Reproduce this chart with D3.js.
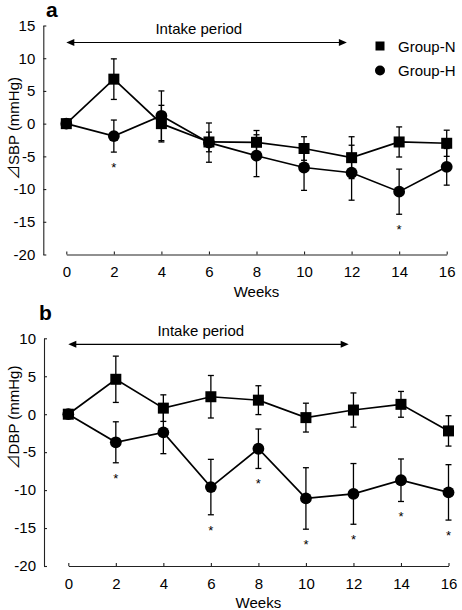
<!DOCTYPE html>
<html><head><meta charset="utf-8">
<script src="https://cdn.jsdelivr.net/npm/d3@7"></script>
<style>
html,body{margin:0;padding:0;background:#fff;}
svg{display:block;font-family:"Liberation Sans",Arial,sans-serif;}
</style></head>
<body>
<svg id="chart" width="462" height="610"></svg>
<script>
// ---- data ----
const weeks = [0, 2, 4, 6, 8, 10, 12, 14, 16];
const xTicks = [0, 2, 4, 6, 8, 10, 12, 14, 16];

const sbpN    = [0, 6.8, 0.0, -2.8, -2.85, -3.8, -5.2, -2.8, -3.0];
const sbpNErr = [0, 3.1, 2.8, 1.5, 1.8, 1.8, 3.2, 2.3, 2.0];
const sbpH    = [0, -1.9, 1.2, -2.9, -4.9, -6.7, -7.5, -10.4, -6.6];
const sbpHErr = [0, 2.45, 3.8, 3.0, 3.2, 3.5, 4.2, 3.45, 2.8];
const sbpSig  = [0, 1, 0, 0, 0, 0, 0, 1, 0];
const sbpTicks = [15, 10, 5, 0, -5, -10, -15, -20];

const dbpN    = [0, 4.6, 0.8, 2.3, 1.85, -0.45, 0.55, 1.3, -2.2];
const dbpNErr = [0, 3.05, 1.75, 2.8, 1.9, 1.9, 2.25, 1.7, 2.0];
const dbpH    = [0, -3.7, -2.4, -9.6, -4.55, -11.1, -10.5, -8.7, -10.3];
const dbpHErr = [0, 2.7, 2.8, 3.65, 2.6, 4.05, 4.0, 2.8, 3.65];
const dbpSig  = [0, 1, 0, 1, 1, 1, 1, 1, 1];
const dbpTicks = [10, 5, 0, -5, -10, -15, -20];

const intakeWeeks = [0, 11.8];
const seriesNames = ["Group-N", "Group-H"];

const svg = d3.select("#chart");

function panel(opt) {
  const x = d3.scaleLinear().domain([0, 16]).range(opt.xRange);
  const y = d3.scaleLinear().domain(opt.yDomain).range(opt.yRange);
  const g = svg.append("g");

  const ya = g.append("g").attr("transform", `translate(${opt.yAxisX},0)`)
    .call(d3.axisLeft(y).tickValues(opt.yTicks).tickFormat(d => String(d))
      .tickSizeInner(-3).tickSizeOuter(0).tickPadding(8));
  const xa = g.append("g").attr("transform", `translate(0,${opt.yRange[0]})`)
    .call(d3.axisBottom(x).tickValues(xTicks).tickFormat(d => String(d))
      .tickSizeInner(-3).tickSizeOuter(0).tickPadding(12));
  [ya, xa].forEach(a => {
    a.selectAll("text").attr("font-size", 15).attr("fill", "#000")
      .attr("font-family", "Liberation Sans, Arial, sans-serif");
    a.selectAll("path,line").attr("stroke", "#222").attr("stroke-width", 1.1);
  });

  g.append("text").attr("x", (opt.xRange[0] + opt.xRange[1]) / 2).attr("y", opt.xTitleY)
    .attr("text-anchor", "middle").attr("font-size", 15).text("Weeks");
  const yt = g.append("text").attr("transform", `translate(${opt.yTitleX},${opt.yTitleY}) rotate(-90)`)
    .attr("text-anchor", "middle").attr("font-size", 15);
  yt.append("tspan").attr("font-family", "Noto Sans CJK JP, DejaVu Sans, sans-serif").text(opt.yTitle[0]);
  yt.append("tspan").text(opt.yTitle[1]);
  g.append("text").attr("x", opt.letterX).attr("y", opt.letterY)
    .attr("font-size", 21).attr("font-weight", "bold").text(opt.letter);

  const ay = y(opt.arrowY);
  const ax0 = x(intakeWeeks[0]), ax1 = x(intakeWeeks[1]);
  g.append("line").attr("x1", ax0 + 5).attr("x2", ax1 - 5).attr("y1", ay).attr("y2", ay)
    .attr("stroke", "#000").attr("stroke-width", 1.2);
  g.append("path").attr("d", `M${ax0},${ay} L${ax0 + 8},${ay - 3.5} L${ax0 + 8},${ay + 3.5} Z`).attr("fill", "#000");
  g.append("path").attr("d", `M${ax1},${ay} L${ax1 - 8},${ay - 3.5} L${ax1 - 8},${ay + 3.5} Z`).attr("fill", "#000");
  g.append("text").attr("x", x(3.75)).attr("y", ay - 8.5).attr("font-size", 15).text("Intake period");

  const line = d3.line().x(d => x(d[0])).y(d => y(d[1]));
  const series = [
    {vals: opt.nVals, errs: opt.nErr, shape: "square"},
    {vals: opt.hVals, errs: opt.hErr, shape: "circle"}
  ];
  series.forEach(s => {
    const pts = weeks.map((w, i) => [w, s.vals[i], s.errs[i]]);
    g.append("path").datum(pts).attr("d", line).attr("fill", "none")
      .attr("stroke", "#000").attr("stroke-width", 1.7);
    const eb = g.append("g").attr("stroke", "#000").attr("stroke-width", 1.3);
    pts.filter(p => p[2] > 0).forEach(p => {
      const cx = x(p[0]), t = y(p[1] + p[2]), b = y(p[1] - p[2]);
      eb.append("line").attr("x1", cx).attr("x2", cx).attr("y1", t).attr("y2", b);
      eb.append("line").attr("x1", cx - 3).attr("x2", cx + 3).attr("y1", t).attr("y2", t);
      eb.append("line").attr("x1", cx - 3).attr("x2", cx + 3).attr("y1", b).attr("y2", b);
    });
  });
  series.forEach(s => {
    weeks.forEach((w, i) => {
      const cx = x(w), cy = y(s.vals[i]);
      if (s.shape === "square") {
        g.append("rect").attr("x", cx - 5.5).attr("y", cy - 5.5).attr("width", 11).attr("height", 11).attr("fill", "#000");
      } else {
        g.append("circle").attr("cx", cx).attr("cy", cy).attr("r", 5.9).attr("fill", "#000");
      }
    });
  });
  weeks.forEach((w, i) => {
    if (opt.sig[i]) {
      const b = y(opt.hVals[i] - opt.hErr[i]);
      g.append("text").attr("x", x(w)).attr("y", b + 20).attr("text-anchor", "middle")
        .attr("font-size", 13).text("*");
    }
  });
  return {x, y, g};
}

const panelA = panel({
  xRange: [66.3, 446.7], yDomain: [-20, 15], yRange: [254.5, 25.5], yAxisX: 43.3,
  yTicks: sbpTicks, nVals: sbpN, nErr: sbpNErr, hVals: sbpH, hErr: sbpHErr, sig: sbpSig,
  xTitleY: 297, yTitleX: 19, yTitleY: 128.5, yTitle: ["⊿", "SBP (mmHg)"],
  letter: "a", letterX: 46, letterY: 17, arrowY: 12.4
});

panel({
  xRange: [68.3, 448.5], yDomain: [-20, 10], yRange: [566, 338.3], yAxisX: 44,
  yTicks: dbpTicks, nVals: dbpN, nErr: dbpNErr, hVals: dbpH, hErr: dbpHErr, sig: dbpSig,
  xTitleY: 608, yTitleX: 19, yTitleY: 417.5, yTitle: ["⊿", "DBP (mmHg)"],
  letter: "b", letterX: 39, letterY: 320, arrowY: 9.2
});

const lg = panelA.g.append("g");
const legendY = [46, 70.5];
seriesNames.forEach((name, i) => {
  if (i === 0) lg.append("rect").attr("x", 375.5).attr("y", legendY[i] - 4.5).attr("width", 9).attr("height", 9).attr("fill", "#000");
  else lg.append("circle").attr("cx", 380).attr("cy", legendY[i]).attr("r", 5).attr("fill", "#000");
  lg.append("text").attr("x", 398).attr("y", legendY[i] + 5.5).attr("font-size", 15).text(name);
});
</script>
</body></html>
